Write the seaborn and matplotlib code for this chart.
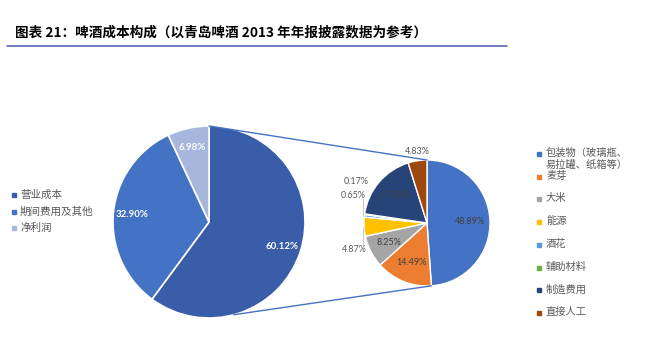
import numpy as np
import matplotlib
matplotlib.use("Agg")
import matplotlib.pyplot as plt
import seaborn as sns

# 大饼图：收入拆分
big_labels = ['营业成本', '期间费用及其他', '净利润']
big_values = [60.12, 32.90, 6.98]
big_colors = ['#3A5DA9', '#4472C4', '#A7B6DC']

# 小饼图：营业成本构成
small_labels = ['包装物（玻璃瓶、\n易拉罐、纸箱等）', '麦芽', '大米', '能源', '酒花',
                '辅助材料', '制造费用', '直接人工']
small_values = [48.89, 14.49, 8.25, 4.87, 0.65, 0.17, 17.85, 4.83]
small_colors = ['#4472C4', '#ED7D31', '#A5A5A5', '#FFC000', '#5B9BD5',
                '#70AD47', '#264478', '#9E480E']

title = '图表 21：啤酒成本构成（以青岛啤酒 2013 年年报披露数据为参考）'

W, H = 646, 356

sns.set_theme(style='white')
plt.rcParams['font.family'] = ['Noto Sans CJK SC', 'DejaVu Sans']

fig = plt.figure(figsize=(W / 100, H / 100), dpi=100)
ax = fig.add_axes([0, 0, 1, 1])

# 坐标按像素设置，y 轴向上
big_c, big_r = (209, H - 222), 96
small_c, small_r = (427, H - 223), 63

wedges1, _, pct1 = ax.pie(
    big_values, colors=big_colors, startangle=90, counterclock=False,
    center=big_c, radius=big_r, autopct='%.2f%%', pctdistance=0.8,
    wedgeprops=dict(edgecolor='white', linewidth=1.2),
    textprops=dict(color='white', fontsize=7, fontweight='bold', family='Lato'))

wedges2, _, pct2 = ax.pie(
    small_values, colors=small_colors, startangle=90, counterclock=False,
    center=small_c, radius=small_r, autopct='%.2f%%', pctdistance=0.68,
    wedgeprops=dict(edgecolor='white', linewidth=1),
    textprops=dict(color='#404040', fontsize=6.5, family='Lato'))

# 小扇区的标签放到饼外
outside = {3: (354, 250), 4: (353, 195), 5: (356, 182), 7: (417, 151)}
for i, (px, py) in outside.items():
    pct2[i].set_position((px, H - py))
    pct2[i].set_color('#595959')

# 引导线
for i, ly in [(4, 199), (3, 245)]:
    w = wedges2[i]
    mid = np.deg2rad((w.theta1 + w.theta2) / 2)
    ex = small_c[0] + small_r * np.cos(mid)
    ey = small_c[1] + small_r * np.sin(mid)
    ax.plot([ex - 1, ex - 1], [H - ly, ey], color='#BFBFBF', lw=0.6)

# 连接线
ax.plot([big_c[0], small_c[0]], [big_c[1] + big_r, small_c[1] + small_r],
        color='#4472C4', lw=1)
a_big = np.deg2rad(90 - 165)
a_small = np.deg2rad(min(wedges2[0].theta1, wedges2[0].theta2))
ax.plot([big_c[0] + big_r * np.cos(a_big), small_c[0] + small_r * np.cos(a_small)],
        [big_c[1] + big_r * np.sin(a_big), small_c[1] + small_r * np.sin(a_small)],
        color='#4472C4', lw=1)

# 左侧图例
for i, lab in enumerate(big_labels):
    y = H - (195 + 16.5 * i)
    ax.plot(14, y, marker='s', ms=2.5, color=big_colors[i], lw=0)
    ax.text(20, y, lab, fontsize=7.6, va='center', color='#595959')

# 右侧图例
for i, lab in enumerate(small_labels):
    y = H - (154 + 22.7 * i)
    ax.plot(539, y, marker='s', ms=2.5, color=small_colors[i], lw=0)
    ax.text(546, y + 6, lab, fontsize=7.4, va='top', color='#595959', linespacing=1.2)

# 标题与下划线
fig.text(15 / W, 1 - 32 / H, title, fontsize=9.8, fontweight='bold', va='center', color='black')
ax.plot([7, 507], [H - 46, H - 46], color='#5A67B0', lw=1.2)

ax.set_xlim(0, W)
ax.set_ylim(0, H)
ax.set_aspect('equal')
ax.set_axis_off()

fig.savefig('out.png', dpi=100, facecolor='white')
